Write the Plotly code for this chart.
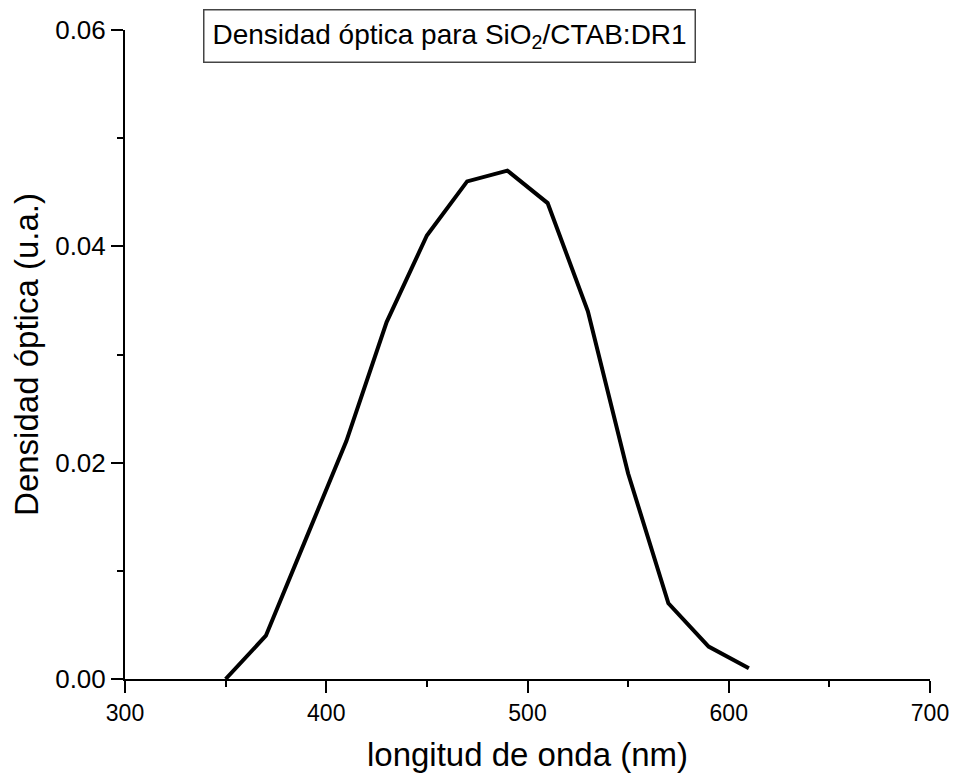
import plotly.graph_objects as go

wavelength = [350, 370, 390, 410, 430, 450, 470, 490, 510, 530, 550, 570, 590, 610]
optical_density = [0.0, 0.004, 0.013, 0.022, 0.033, 0.041, 0.046, 0.047, 0.044, 0.034, 0.019, 0.007, 0.003, 0.001]

title_text = "Densidad óptica para SiO<sub>2</sub>/CTAB:DR1"
x_title = "longitud de onda (nm)"
y_title = "Densidad óptica (u.a.)"
x_ticks = [300, 400, 500, 600, 700]
y_ticks = [0.0, 0.02, 0.04, 0.06]
y_ticklabels = ["0.00", "0.02", "0.04", "0.06"]

font_family = "Liberation Sans, Arial, sans-serif"

fig = go.Figure()
fig.add_trace(go.Scatter(
    x=wavelength, y=optical_density, mode="lines",
    line=dict(color="black", width=4), showlegend=False,
))

fig.update_layout(
    width=941, height=765,
    margin=dict(l=117, r=19, t=22, b=94),
    paper_bgcolor="white", plot_bgcolor="white",
    font=dict(family=font_family, color="black", size=24),
    annotations=[dict(
        text=title_text, xref="paper", yref="paper",
        x=0.4025, y=0.991, xanchor="center", yanchor="middle",
        showarrow=False, font=dict(size=28, color="black", family=font_family),
        bordercolor="#444444", borderwidth=1.5, borderpad=8, bgcolor="white",
    )],
)

fig.update_xaxes(
    range=[300, 700], tickvals=x_ticks, ticks="outside", ticklen=12, tickwidth=2,
    tickcolor="black", showline=True, linecolor="black", linewidth=2,
    showgrid=False, zeroline=False, tickfont=dict(size=23), automargin=False,
    ticklabeloverflow="allow",
    minor=dict(ticks="outside", ticklen=6, tickwidth=2, tickcolor="black", dtick=50, showgrid=False),
    title=dict(text=x_title, font=dict(size=33), standoff=26),
)
fig.update_yaxes(
    range=[0, 0.06], tickvals=y_ticks, ticktext=y_ticklabels, ticks="outside", ticklen=12, tickwidth=2,
    tickcolor="black", showline=True, linecolor="black", linewidth=2,
    showgrid=False, zeroline=False, tickfont=dict(size=26), automargin=False,
    ticklabeloverflow="allow",
    minor=dict(ticks="outside", ticklen=6, tickwidth=2, tickcolor="black", dtick=0.01, showgrid=False),
    title=dict(text=y_title, font=dict(size=33), standoff=10),
)

fig.write_html("out.html")
